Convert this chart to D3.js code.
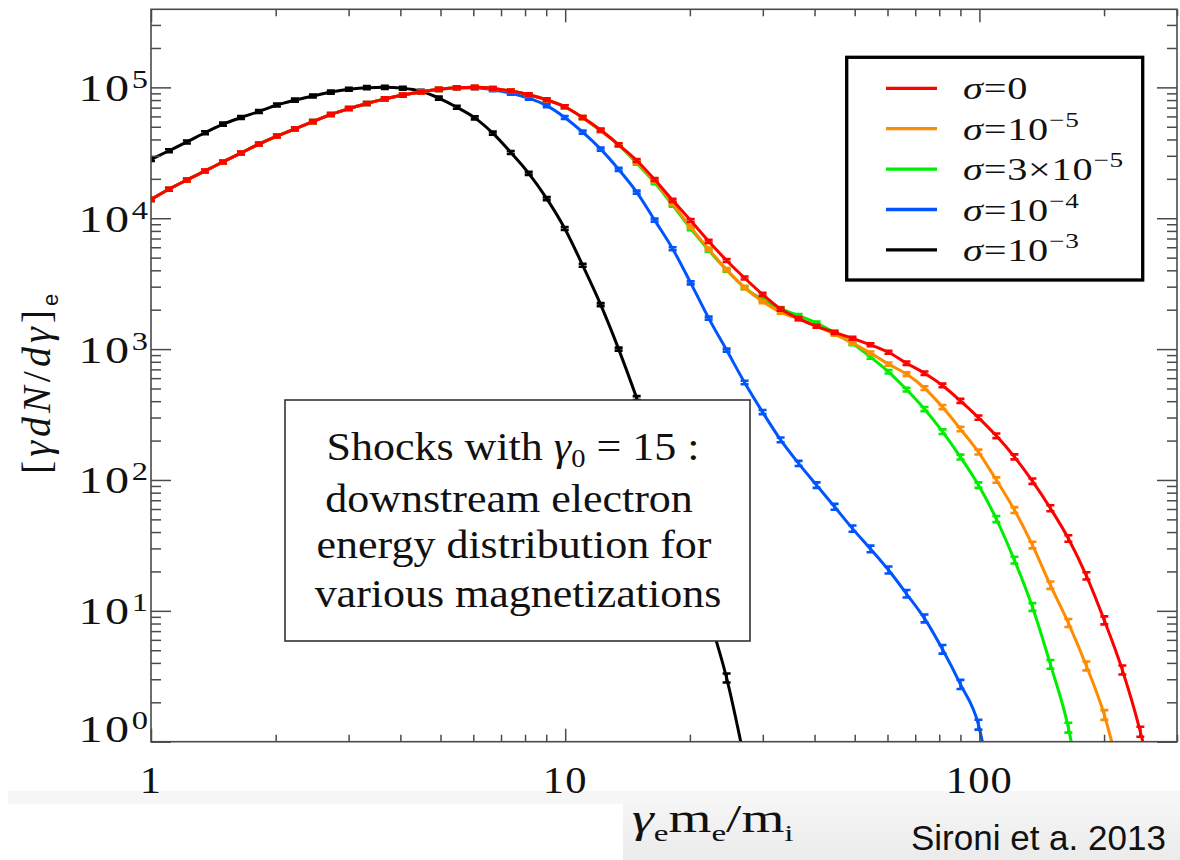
<!DOCTYPE html>
<html>
<head>
<meta charset="utf-8">
<script src="https://cdn.jsdelivr.net/npm/d3@7"></script>
<style>
  html, body { margin: 0; padding: 0; background: #ffffff; }
  svg { display: block; }
</style>
</head>
<body>
<svg id="chart" width="1180" height="860"></svg>
<script>
// Energy bins, gamma_e m_e / m_i (logarithmic, ~23 per decade)
const gammaBins = [1, 1.105, 1.221, 1.350, 1.492, 1.649, 1.822, 2.014, 2.226, 2.460,
  2.718, 3.004, 3.320, 3.669, 4.055, 4.482, 4.953, 5.474, 6.050, 6.686,
  7.389, 8.166, 9.025, 9.974, 11.02, 12.18, 13.46, 14.88, 16.44, 18.17,
  20.09, 22.20, 24.53, 27.11, 29.96, 33.12, 36.60, 40.45, 44.70, 49.40,
  54.60, 60.34, 66.69, 73.70, 81.45, 90.02, 99.48, 109.9, 121.5, 134.3,
  148.4, 164.0, 181.3, 200.3, 221.4, 244.7, 270.4];

// [gamma dN/dgamma]_e for each magnetization, one value per bin (from the first bin)
const sigma0 = [13930, 16660, 19620, 22980, 26920, 31490, 36880, 42460, 48190, 54700,
  62090, 68870, 75340, 81660, 87300, 92260, 96610, 99310, 100000, 98080,
  93700, 87900, 80350, 71120, 58900, 47180, 36430, 27640, 19790, 13700,
  9604, 6660, 4760, 3494, 2618, 2021, 1710, 1494, 1342, 1209,
  1079, 945.5, 780.4, 653.5, 527.2, 402.1, 299.8, 217.3, 150.1, 97.9,
  60.8, 35.7, 18.5, 8.45, 3.53, 1.19, 0.30];

const sigma1e5 = [13930, 16660, 19620, 22980, 26920, 31490, 36880, 42460, 48190, 54700,
  62090, 68870, 75340, 81660, 87300, 92260, 96610, 99310, 100000, 98080,
  93700, 87900, 80350, 71120, 58680, 46690, 36310, 26830, 19210, 12930,
  8551, 5808, 4050, 2950, 2307, 1917, 1704, 1499, 1302, 1111,
  932, 768.2, 644.2, 503.6, 360.6, 244.8, 163.4, 99.8, 58.9, 31.8,
  15.7, 8.07, 3.79, 1.60, 0.47];

const sigma3e5 = [13930, 16660, 19620, 22980, 26920, 31490, 36880, 42460, 48190, 54700,
  62090, 68870, 75340, 81660, 87300, 92260, 96610, 99310, 100000, 98080,
  93700, 87900, 80350, 71120, 58680, 46690, 36310, 26360, 18710, 12600,
  8328, 5706, 4014, 2950, 2389, 2039, 1803, 1580, 1337, 1102,
  868.7, 670.9, 490.6, 348.0, 233.9, 149.6, 91.4, 50.3, 24.4, 10.7,
  3.90, 1.28, 0.21];

const sigma1e4 = [13930, 16660, 19620, 22980, 26920, 31490, 36880, 42460, 48190, 54700,
  62090, 68870, 75340, 81660, 87300, 92260, 96610, 99000, 99400, 96020,
  90300, 82680, 72470, 58900, 45490, 33730, 23640, 15830, 9672, 5848,
  3205, 1726, 982.6, 555.7, 330.1, 202.4, 133.9, 91.3, 62.4, 42.5,
  29.7, 20.5, 13.5, 8.75, 5.08, 2.74, 1.35, 0.25];

const sigma1e3 = [28130, 32790, 38270, 44990, 52350, 58800, 65450, 73380, 79860, 85900,
  92040, 96830, 99540, 100000, 98400, 93380, 82830, 70470, 58480, 44670,
  31820, 22030, 14110, 8344, 4368, 2188, 1000, 422.5, 169.2, 65.4,
  24.4, 9.13, 3.07, 0.72];

// Legend entries (drawn top to bottom) and their colours
const legendLabels = [
  [{t: 'σ', i: true}, {t: '=0'}],
  [{t: 'σ', i: true}, {t: '=10'}, {t: '−5', sup: true}],
  [{t: 'σ', i: true}, {t: '=3×10'}, {t: '−5', sup: true}],
  [{t: 'σ', i: true}, {t: '=10'}, {t: '−4', sup: true}],
  [{t: 'σ', i: true}, {t: '=10'}, {t: '−3', sup: true}]
];
const legendColors = ['#ff0000', '#ff8c00', '#00ee00', '#0055ff', '#000000'];
const legendSeries = [sigma0, sigma1e5, sigma3e5, sigma1e4, sigma1e3];

// Axis ticks
const xMajorTicks = [1, 10, 100];
const xTickLabels = ['1', '10', '100'];
const yTickExponents = [0, 1, 2, 3, 4, 5];

const annotationLines = [
  'downstream electron',
  'energy distribution for',
  'various magnetizations'
];

// ---------------------------------------------------------------------------
const plot = { left: 151, right: 1177, top: 9.3, bottom: 741.7 };
const x = d3.scaleLog().domain([1, 300]).range([plot.left, plot.right]);
const y = d3.scaleLog().domain([1, 3.95e5]).range([plot.bottom, plot.top]);

const svg = d3.select('#chart');
const serif = '"Liberation Serif", "Times New Roman", serif';
const sans = '"Liberation Sans", Arial, sans-serif';
const axisColor = '#4a4a4a';

const defs = svg.append('defs');
defs.append('clipPath').attr('id', 'plotClip')
  .append('rect')
  .attr('x', plot.left).attr('y', plot.top)
  .attr('width', plot.right - plot.left).attr('height', plot.bottom - plot.top);
const grad = defs.append('linearGradient').attr('id', 'footGrad')
  .attr('x1', 0).attr('y1', 0).attr('x2', 0).attr('y2', 1);
grad.append('stop').attr('offset', '0%').attr('stop-color', '#f5f5f5');
grad.append('stop').attr('offset', '100%').attr('stop-color', '#ebebeb');

// footer strip behind the axis title
svg.append('rect').attr('x', 8).attr('y', 791).attr('width', 1172).attr('height', 13).attr('fill', '#f6f6f6');
svg.append('rect').attr('x', 623).attr('y', 804).attr('width', 557).attr('height', 56).attr('fill', 'url(#footGrad)');

// ---- curves ---------------------------------------------------------------
const curveLayer = svg.append('g').attr('clip-path', 'url(#plotClip)');
const line = d3.line()
  .x(d => x(d[0]))
  .y(d => y(d[1]))
  .curve(d3.curveMonotoneX);

// drawing order: black at the bottom, red on top
const drawOrder = [4, 3, 2, 1, 0];
drawOrder.forEach(idx => {
  const vals = legendSeries[idx];
  const color = legendColors[idx];
  const pts = vals.map((v, k) => [gammaBins[k], v]);
  const g = curveLayer.append('g');
  g.append('path')
    .attr('d', line(pts))
    .attr('fill', 'none')
    .attr('stroke', color)
    .attr('stroke-width', 3)
    .attr('stroke-linejoin', 'round');
  // error-bar markers on every bin
  g.selectAll('path.mk')
    .data(pts)
    .join('path')
    .attr('class', 'mk')
    .attr('d', d => {
      const px = x(d[0]), py = y(d[1]);
      const lg = Math.log10(Math.max(d[1], 0.1));
      const hh = lg >= 3 ? 1.5 : 1.5 + (3 - lg) * 1.2;
      return `M${px - 4},${py - hh}h8M${px - 4},${py + hh}h8M${px},${py - hh}V${py + hh}`;
    })
    .attr('fill', 'none')
    .attr('stroke', color)
    .attr('stroke-width', 2.6);
});

// ---- axes -----------------------------------------------------------------
function stripAxis(g) {
  g.select('.domain').remove();
  g.selectAll('text').remove();
  g.selectAll('line').attr('stroke', axisColor).attr('stroke-width', 1.5);
}
const xMinor = x.ticks().filter(v => !xMajorTicks.includes(v));
const yAll = y.ticks();
const yMajorVals = yTickExponents.map(e => Math.pow(10, e));
const yMinor = yAll.filter(v => !yMajorVals.some(m => Math.abs(m - v) / v < 1e-9));

svg.append('g').attr('transform', `translate(0,${plot.bottom})`)
  .call(d3.axisBottom(x).tickValues(xMajorTicks).tickSizeInner(-13).tickSizeOuter(0)).call(stripAxis);
svg.append('g').attr('transform', `translate(0,${plot.bottom})`)
  .call(d3.axisBottom(x).tickValues(xMinor).tickSizeInner(-7).tickSizeOuter(0)).call(stripAxis);
svg.append('g').attr('transform', `translate(0,${plot.top})`)
  .call(d3.axisTop(x).tickValues(xMajorTicks).tickSizeInner(-13).tickSizeOuter(0)).call(stripAxis);
svg.append('g').attr('transform', `translate(0,${plot.top})`)
  .call(d3.axisTop(x).tickValues(xMinor).tickSizeInner(-7).tickSizeOuter(0)).call(stripAxis);
svg.append('g').attr('transform', `translate(${plot.left},0)`)
  .call(d3.axisLeft(y).tickValues(yMajorVals).tickSizeInner(-20).tickSizeOuter(0)).call(stripAxis);
svg.append('g').attr('transform', `translate(${plot.left},0)`)
  .call(d3.axisLeft(y).tickValues(yMinor).tickSizeInner(-10).tickSizeOuter(0)).call(stripAxis);
svg.append('g').attr('transform', `translate(${plot.right},0)`)
  .call(d3.axisRight(y).tickValues(yMajorVals).tickSizeInner(-20).tickSizeOuter(0)).call(stripAxis);
svg.append('g').attr('transform', `translate(${plot.right},0)`)
  .call(d3.axisRight(y).tickValues(yMinor).tickSizeInner(-10).tickSizeOuter(0)).call(stripAxis);

svg.append('rect')
  .attr('x', plot.left).attr('y', plot.top)
  .attr('width', plot.right - plot.left).attr('height', plot.bottom - plot.top)
  .attr('fill', 'none').attr('stroke', axisColor).attr('stroke-width', 1.6);

// x tick labels
xMajorTicks.forEach((v, i) => {
  svg.append('text')
    .attr('transform', `translate(${x(v)},793) scale(1.15,1)`)
    .attr('text-anchor', 'middle')
    .attr('font-family', serif).attr('font-size', 37).attr('fill', '#111')
    .attr('letter-spacing', 1)
    .text(xTickLabels[i]);
});

// y tick labels: 10^n
yTickExponents.forEach(e => {
  const ty = y(Math.pow(10, e));
  const base = e === 0 ? ty : ty + 13.4;
  const t = svg.append('text')
    .attr('transform', `translate(148,${base}) scale(1.3,1)`)
    .attr('text-anchor', 'end')
    .attr('font-family', serif).attr('font-size', 37).attr('fill', '#111');
  t.append('tspan').attr('letter-spacing', 2).text('10');
  t.append('tspan').attr('dy', -13).attr('font-size', 25).text(String(e));
});

// y-axis title
const yt = svg.append('text')
  .attr('transform', 'translate(50,474) rotate(-90)')
  .attr('font-family', serif).attr('font-size', 40).attr('fill', '#111')
  .attr('letter-spacing', 4);
yt.append('tspan').text('[');
yt.append('tspan').attr('font-style', 'italic').text('γdN');
yt.append('tspan').text('/');
yt.append('tspan').attr('font-style', 'italic').text('dγ');
yt.append('tspan').text(']');
yt.append('tspan').attr('dy', 8).attr('font-family', sans).attr('font-size', 22).attr('letter-spacing', 0).text('e');

// x-axis title
const xt = svg.append('text')
  .attr('transform', 'translate(632,832) scale(1.38,1)')
  .attr('font-family', serif).attr('font-size', 40).attr('fill', '#111');
xt.append('tspan').attr('font-style', 'italic').text('γ');
xt.append('tspan').attr('dy', 9).attr('font-size', 24).text('e');
xt.append('tspan').attr('dy', -9).text('m');
xt.append('tspan').attr('dy', 9).attr('font-size', 24).text('e');
xt.append('tspan').attr('dy', -9).text('/m');
xt.append('tspan').attr('dy', 9).attr('font-size', 24).text('i');

svg.append('text')
  .attr('x', 911).attr('y', 850)
  .attr('font-family', sans).attr('font-size', 35).attr('fill', '#111')
  .text('Sironi et a. 2013');

// ---- annotation box ---------------------------------------------------------
svg.append('rect')
  .attr('x', 285).attr('y', 400).attr('width', 465).attr('height', 241)
  .attr('fill', '#ffffff').attr('stroke', '#333').attr('stroke-width', 1.6);

const l1 = svg.append('text')
  .attr('transform', 'translate(513,460) scale(1.1,1)')
  .attr('text-anchor', 'middle')
  .attr('font-family', serif).attr('font-size', 40).attr('fill', '#111');
l1.append('tspan').text('Shocks with ');
l1.append('tspan').attr('font-style', 'italic').text('γ');
l1.append('tspan').attr('dy', 7).attr('font-size', 26).text('0');
l1.append('tspan').attr('dy', -7).text(' = 15 :');

const lineCenters = [509, 514, 518];
const lineBases = [511.7, 558.3, 606.7];
annotationLines.forEach((s, i) => {
  svg.append('text')
    .attr('transform', `translate(${lineCenters[i]},${lineBases[i]}) scale(1.1,1)`)
    .attr('text-anchor', 'middle')
    .attr('font-family', serif).attr('font-size', 40).attr('fill', '#111')
    .text(s);
});

// ---- legend ---------------------------------------------------------------
svg.append('rect')
  .attr('x', 846.7).attr('y', 57.3).attr('width', 296).attr('height', 222.7)
  .attr('fill', '#ffffff').attr('stroke', '#000').attr('stroke-width', 3.3);

legendLabels.forEach((segs, i) => {
  const ry = 88.3 + 40.4 * i;
  svg.append('line')
    .attr('x1', 886).attr('x2', 937).attr('y1', ry).attr('y2', ry)
    .attr('stroke', legendColors[i]).attr('stroke-width', 3.3);
  const t = svg.append('text')
    .attr('transform', `translate(963,${ry + 11}) scale(1.3,1)`)
    .attr('font-family', serif).attr('font-size', 31).attr('fill', '#111')
    .attr('letter-spacing', 0.6);
  segs.forEach(s => {
    const ts = t.append('tspan').text(s.t);
    if (s.i) ts.attr('font-style', 'italic');
    if (s.sup) ts.attr('dy', -13).attr('font-size', 21);
  });
});
</script>
</body>
</html>
